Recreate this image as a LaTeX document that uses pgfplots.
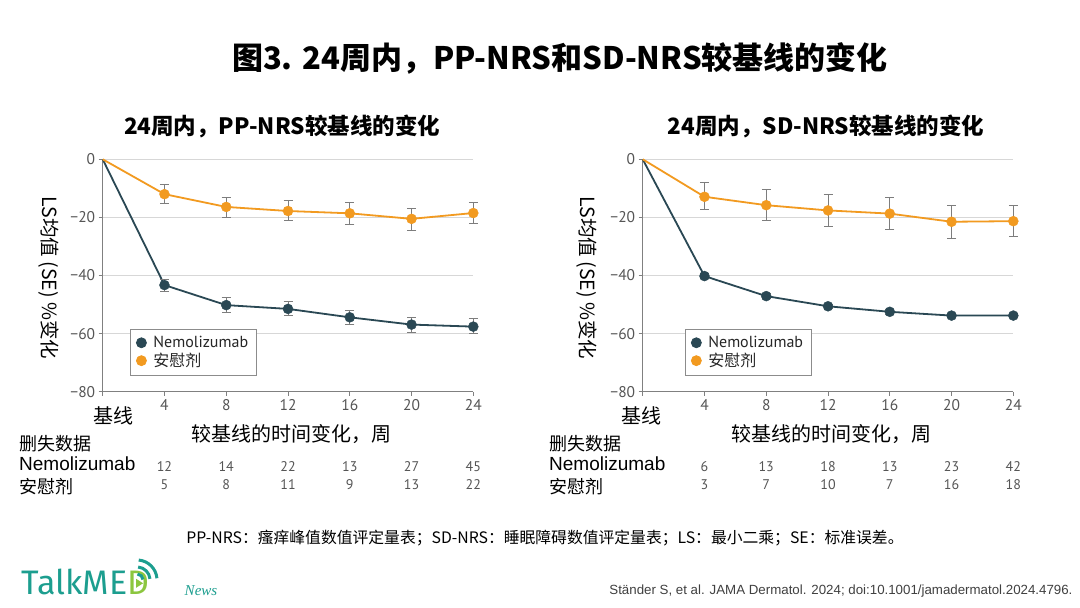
\documentclass[border=0pt]{standalone}
\usepackage{fontspec}
\usepackage{pgfplots}
\usepackage{pgfplotstable}
\pgfplotsset{compat=1.18}
\setmainfont{Noto Sans CJK SC}
\newfontfamily\tickfont{PT Sans}
\newfontfamily\logofont{Fira Sans}
\newfontfamily\citefont{Liberation Sans}
\newfontfamily\newsfont{Liberation Serif}
\newcommand{\fs}[1]{\fontsize{#1bp}{#1bp}\selectfont}
\definecolor{navy}{RGB}{42,72,84}
\definecolor{orng}{RGB}{242,154,32}
\definecolor{tickgray}{RGB}{85,85,85}
\definecolor{gridgray}{RGB}{215,215,215}
\definecolor{errgray}{RGB}{125,125,125}
\definecolor{logoteal}{RGB}{28,158,143}
\definecolor{logogreen}{RGB}{140,198,63}

% week, LS mean % change, +err, -err
\pgfplotstableread{
x y ep em
0 0 0 0
4 -43.3 2.1 2.3
8 -50.2 2.5 2.4
12 -51.5 2.5 2.4
16 -54.4 2.5 2.5
20 -56.9 2.6 2.6
24 -57.6 2.8 2.4
}\lnemo
\pgfplotstableread{
x y ep em
0 0 0 0
4 -12.0 3.2 3.2
8 -16.4 3.2 3.7
12 -17.8 3.7 3.4
16 -18.6 3.6 3.8
20 -20.5 3.6 3.9
24 -18.5 3.8 3.7
}\lplac
\pgfplotstableread{
x y ep em
0 0 0 0
4 -40.2 0.8 0.8
8 -47.1 0.8 0.8
12 -50.6 0.8 0.8
16 -52.5 0.8 0.8
20 -53.8 0.8 0.8
24 -53.8 0.8 0.8
}\rnemo
\pgfplotstableread{
x y ep em
0 0 0 0
4 -12.9 4.9 4.5
8 -15.8 5.4 5.2
12 -17.6 5.4 5.4
16 -18.7 5.4 5.4
20 -21.5 5.7 5.6
24 -21.3 5.4 5.4
}\rplac

\pgfplotsset{
 mystyle/.style={
  scale only axis, width=370.6bp, height=232.4bp,
  xmin=0, xmax=24, ymin=-80, ymax=0,
  axis x line*=bottom, axis y line*=left,
  xtick={0,4,...,24}, xticklabels={,4,8,12,16,20,24},
  ytick={-80,-60,-40,-20,0}, yticklabels={−80,−60,−40,−20,0},
  ymajorgrids, grid style={gridgray, line width=0.8bp},
  tick align=outside, major tick length=4bp,
  tick style={gray, line width=0.8bp},
  axis line style={gray, line width=0.8bp},
  tick label style={font=\tickfont\fs{15.5}, text=tickgray},
  /pgf/number format/assume math mode=true,
  clip=false,
  legend cell align=left,
  legend style={anchor=north west, draw=gray!90, line width=0.8bp,
    font=\fs{16}, text=black!85, inner xsep=6bp, inner ysep=5bp, row sep=0bp},
 },
 linestyle/.style={#1, line width=1.8bp, forget plot},
 markstyle/.style={only marks, mark=*, mark size=5bp, mark options={fill=#1, draw=#1},
   skip coords between index={0}{1},
   error bars/.cd, y dir=both, y explicit,
   error bar style={errgray, line width=0.9bp},
   error mark options={rotate=90, errgray, mark size=4.5bp, line width=0.9bp}},
}

\begin{document}
\begin{tikzpicture}[x=1bp,y=1bp]
\path[use as bounding box, fill=white] (0,0) rectangle (1080,608);

\node[font=\bfseries\fs{31}] at (560,550) {图3. 24周内，PP-NRS和SD-NRS较基线的变化};
\node[font=\bfseries\fs{22.5}] at (282,482) {24周内，PP-NRS较基线的变化};
\node[font=\bfseries\fs{22.5}] at (826,482) {24周内，SD-NRS较基线的变化};

% left chart
\begin{axis}[mystyle, at={(102.7bp,216.3bp)}, anchor=south west,
  legend style={at={(0.0737,0.27)}}]
\addplot[linestyle=navy] table[x=x,y=y]{\lnemo};
\addplot[linestyle=orng] table[x=x,y=y]{\lplac};
\addplot[markstyle=navy] table[x=x,y=y,y error plus=ep,y error minus=em]{\lnemo};
\addplot[markstyle=orng] table[x=x,y=y,y error plus=ep,y error minus=em]{\lplac};
\legend{\hspace*{5bp}{\tickfont Nemolizumab},\hspace*{5bp}安慰剂}
\end{axis}

% right chart
\begin{axis}[mystyle, at={(642.7bp,216.3bp)}, anchor=south west,
  legend style={at={(0.114,0.27)}}]
\addplot[linestyle=navy] table[x=x,y=y]{\rnemo};
\addplot[linestyle=orng] table[x=x,y=y]{\rplac};
\addplot[markstyle=navy] table[x=x,y=y,y error plus=ep,y error minus=em]{\rnemo};
\addplot[markstyle=orng] table[x=x,y=y,y error plus=ep,y error minus=em]{\rplac};
\legend{\hspace*{5bp}{\tickfont Nemolizumab},\hspace*{5bp}安慰剂}
\end{axis}

% axis labels
\node[rotate=-90, font=\fs{19.5}] at (49,330) {LS均值 (SE) \%变化};
\node[rotate=-90, font=\fs{19.5}] at (587,330) {LS均值 (SE) \%变化};
\node[font=\fs{20}] at (113,192) {基线};
\node[font=\fs{20}] at (641,192) {基线};
\node[font=\fs{20}] at (291,174) {较基线的时间变化，周};
\node[font=\fs{20}] at (831,174) {较基线的时间变化，周};

% censored data tables
\foreach \ox in {0,530}{
  \node[anchor=west, font=\fs{18}, inner sep=0] at (19+\ox,164) {删失数据};
  \node[anchor=west, font=\citefont\fs{19}, inner sep=0] at (19+\ox,144) {Nemolizumab};
  \node[anchor=west, font=\fs{18}, inner sep=0] at (19+\ox,121) {安慰剂};
}
\foreach \v [count=\i] in {12,14,22,13,27,45}
  \node[font=\tickfont\fs{14}, text=tickgray] at ({102.7+\i*61.77},141) {\v};
\foreach \v [count=\i] in {5,8,11,9,13,22}
  \node[font=\tickfont\fs{14}, text=tickgray] at ({102.7+\i*61.77},123) {\v};
\foreach \v [count=\i] in {6,13,18,13,23,42}
  \node[font=\tickfont\fs{14}, text=tickgray] at ({642.7+\i*61.77},141) {\v};
\foreach \v [count=\i] in {3,7,10,7,16,18}
  \node[font=\tickfont\fs{14}, text=tickgray] at ({642.7+\i*61.77},123) {\v};

% footnote
\node[font=\fs{15.8}] at (545,70) {PP-NRS：瘙痒峰值数值评定量表；SD-NRS：睡眠障碍数值评定量表；LS：最小二乘；SE：标准误差。};
\node[anchor=east, font=\citefont\fs{13.3}, text=black!75] at (1076,17) {Ständer S, et al. JAMA Dermatol. 2024; doi:10.1001/jamadermatol.2024.4796.};

% logo
\node[anchor=base west, font=\logofont\fs{34}, text=logoteal, inner sep=0] (tk) at (21,13) {TalkME};
\node[anchor=base west, font=\logofont\fs{34}, text=logogreen, inner sep=0] (dd) at (tk.base east) {D};
\fill[logogreen] ([xshift=-2.5bp,yshift=-4.5bp]dd.center) -- ++(0,9) -- ++(7,-4.5) -- cycle;
\foreach \r in {6,13,20}
  \draw[logoteal, line width=3bp] (137,28) ++(5:\r) arc[start angle=5, end angle=85, radius=\r];
\node[font=\newsfont\itshape\fs{15}, text=logoteal] at (201,17) {News};
\end{tikzpicture}
\end{document}
